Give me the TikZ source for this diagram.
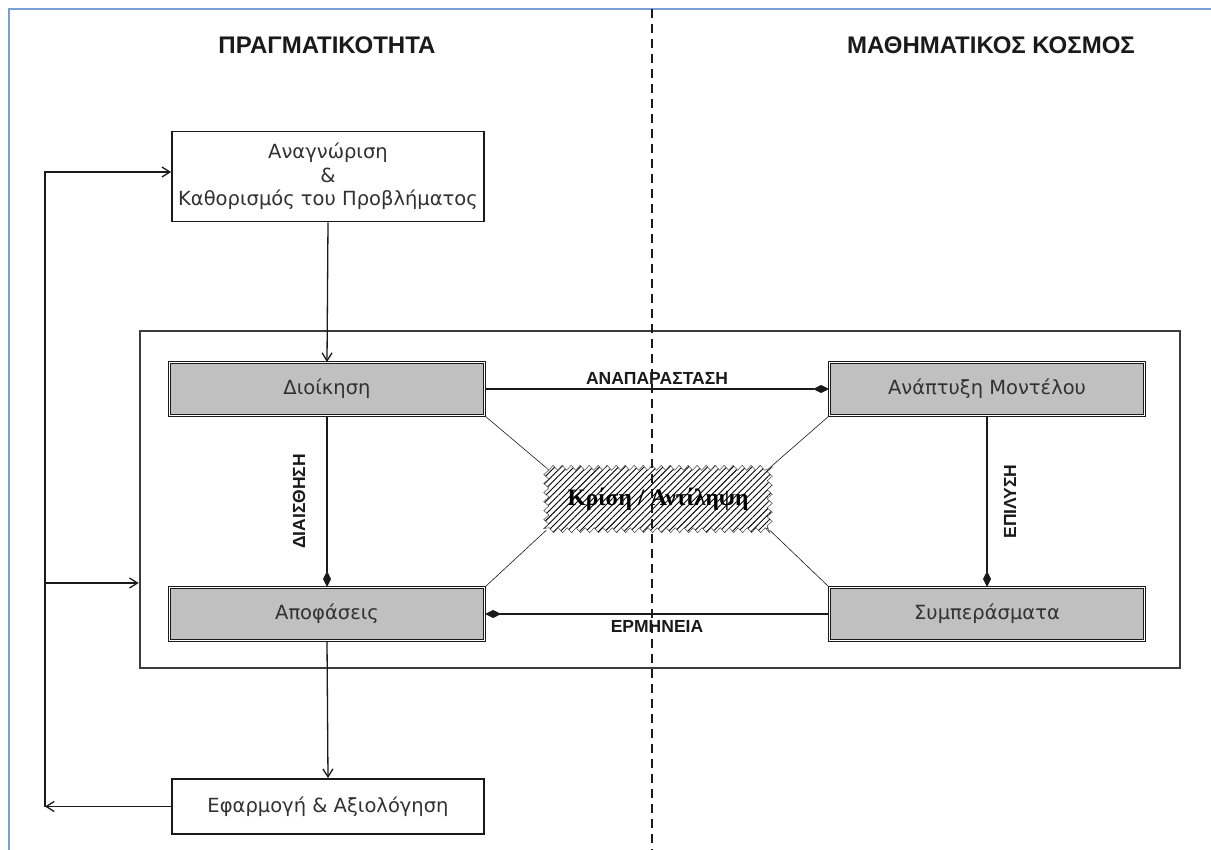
\documentclass[tikz,border=0pt]{standalone}
\usepackage{fontspec}
\setmainfont{Liberation Sans}
\newfontfamily\boxfont{DejaVu Sans}
\newfontfamily\judgefont{Liberation Serif}
\usetikzlibrary{arrows.meta,positioning,patterns.meta,decorations.pathmorphing,backgrounds}
\usepackage{xcolor}
\definecolor{edgeBlue}{HTML}{7A9ED6}
\definecolor{stageGray}{HTML}{C0C0C0}
\definecolor{ink}{HTML}{1A1A1A}
\tikzset{
  pageedge/.style={draw=edgeBlue, line width=1.6pt},
  divider/.style={draw=ink, line width=1.5pt, dash pattern=on 9pt off 6pt},
  heading/.style={text=ink, font=\bfseries\fontsize{24}{28}\selectfont},
  plainbox/.style={draw=ink, line width=1.8pt, fill=white, align=center, inner sep=2pt, font=\boxfont\fontsize{19.5}{23.5}\selectfont, text=ink!90},
  stagebox/.style={draw=ink, line width=1pt, double=white, double distance=1.6pt, fill=stageGray, minimum width=315pt, minimum height=53pt, font=\boxfont\fontsize{19.5}{22}\selectfont, text=ink!90},
  framebox/.style={draw=ink!85, line width=2.6pt, inner sep=0pt},
  judge/.style={minimum width=223pt, minimum height=62pt, text=black, font=\judgefont\bfseries\fontsize{23.5}{27}\selectfont},
  hatch/.style={draw=ink!80, line width=0.5pt, pattern={Lines[angle=45,distance=4.5pt,line width=0.9pt]}, decorate, decoration={zigzag, segment length=9pt, amplitude=2.5pt}},
  flow/.style={-{Straight Barb[length=8pt,width=10pt]}, line width=1.3pt, draw=ink},
  link/.style={-{Diamond[length=16pt,width=8pt]}, line width=1.3pt, draw=ink},
  spoke/.style={line width=0.6pt, draw=ink},
  tag/.style={text=ink, font=\bfseries\fontsize{17.5}{20}\selectfont},
}

\begin{document}
\begin{tikzpicture}[x=1pt,y=-1pt]
  \useasboundingbox (0,0) rectangle (1211,850);
  \begin{scope}[on background layer]
    \fill[white] (0,0) rectangle (1211,850);
  \end{scope}
  \draw[pageedge] (9,850) -- (9,9) -- (1211,9);

  \node[heading] (realTitle) at (327,45) {ΠΡΑΓΜΑΤΙΚΟΤΗΤΑ};
  \node[heading] (mathTitle) at (991,45) {ΜΑΘΗΜΑΤΙΚΟΣ ΚΟΣΜΟΣ};

  \node[framebox, minimum width=1040pt, minimum height=337pt] (frame) at (660,499.5) {};
  \node[plainbox, minimum width=312pt, minimum height=90pt] (problem) at (328,176.5) {Αναγνώριση\\\&\\Καθορισμός του Προβλήματος};
  \node[stagebox] (admin) at (327,389) {Διοίκηση};
  \node[stagebox] (model) at (987,389) {Ανάπτυξη Μοντέλου};
  \node[stagebox] (decide) at (327,614) {Αποφάσεις};
  \node[stagebox] (results) at (987,614) {Συμπεράσματα};
  \node[judge] (judge) at (658,499) {Κρίση / Αντίληψη};
  \begin{scope}[on background layer]
    \path[hatch] (judge.north west) rectangle (judge.south east);
  \end{scope}
  \node[plainbox, minimum width=312pt, minimum height=55pt] (apply) at (328,806.5) {Εφαρμογή \& Αξιολόγηση};

  % main cycle
  \draw[flow] (problem.south) -- (admin.north);
  \draw[link] (admin.east) -- node[tag, above=1pt] {ΑΝΑΠΑΡΑΣΤΑΣΗ} (model.west);
  \draw[link] (model.south) -- node[tag, xshift=23pt, rotate=90] {ΕΠΙΛΥΣΗ} (results.north);
  \draw[link] (results.west) -- node[tag, below=2pt] {ΕΡΜΗΝΕΙΑ} (decide.east);
  \draw[link] (admin.south) -- node[tag, xshift=-28pt, rotate=90] {ΔΙΑΙΣΘΗΣΗ} (decide.north);
  \draw[flow] (decide.south) -- (apply.north);

  % judgement spokes
  \draw[spoke] (admin.south east) -- (judge.north west);
  \draw[spoke] (model.south west) -- (judge.north east);
  \draw[spoke] (decide.north east) -- (judge.south west);
  \draw[spoke] (results.north west) -- (judge.south east);

  % feedback loop
  \coordinate (loopTop) at (45,172);
  \coordinate (loopMid) at (45,583);
  \coordinate (loopBot) at (45,806.5);
  \draw[flow] (apply.west) -- (loopBot);
  \draw[flow] (loopBot) -- (loopTop) -- (loopTop -| problem.west);
  \draw[flow] (loopMid) -- (loopMid -| frame.west);

  \coordinate (divTop) at (652,9);
  \coordinate (divBot) at (652,850);
  \draw[divider] (divTop) -- (divBot);
\end{tikzpicture}
\end{document}
